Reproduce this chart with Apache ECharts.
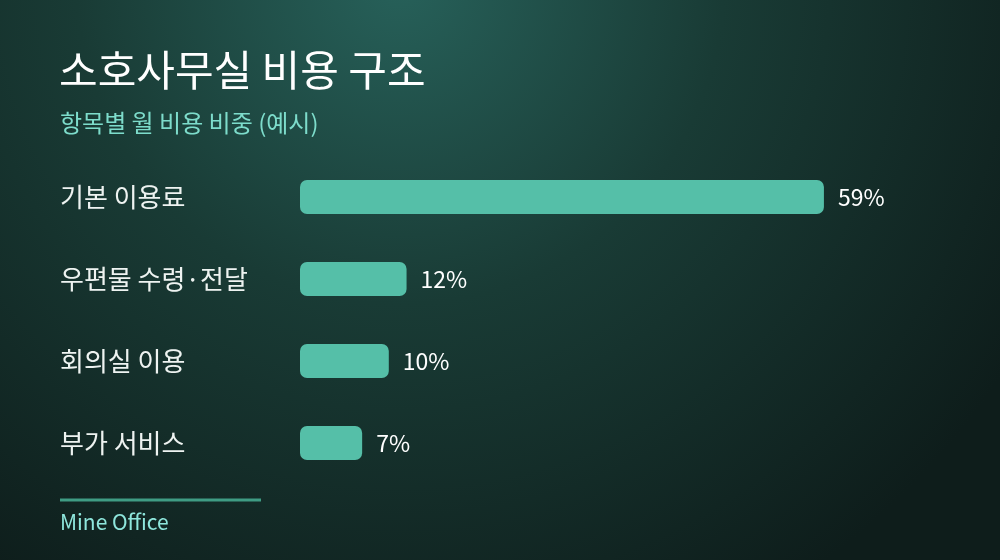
<!DOCTYPE html>
<html><head><meta charset="utf-8">
<script src="https://cdn.jsdelivr.net/npm/echarts@6/dist/echarts.min.js"></script>
<style>html,body{margin:0;padding:0;background:#0f1f1d}#c{width:1000px;height:560px}</style>
</head><body><div id="c"></div>
<script>
const categories = ['기본 이용료', '우편물 수령·전달', '회의실 이용', '부가 서비스'];
const values = [59, 12, 10, 7];
const titleText = '소호사무실 비용 구조';
const subtitleText = '항목별 월 비용 비중 (예시)';
const footerText = 'Mine Office';

const chart = echarts.init(document.getElementById('c'));
const font = '"Noto Sans CJK KR", "Noto Sans", sans-serif';
chart.setOption({
  backgroundColor: {
    type: 'radial', x: 400, y: -20, r: 720, global: true,
    colorStops: [
      {offset: 0, color: '#27615a'},
      {offset: 0.45, color: '#193b35'},
      {offset: 1, color: '#0e1d1b'}
    ]
  },
  title: [
    {text: titleText, left: 59, top: 49, padding: 0, textStyle: {color: '#ffffff', fontSize: 42, fontWeight: 'normal', fontFamily: font}},
    {text: subtitleText, left: 60, top: 111, padding: 0, textStyle: {color: '#7ddccb', fontSize: 24, fontWeight: 'normal', fontFamily: font}}
  ],
  grid: {left: 300, right: 78.4, top: 156, height: 328},
  xAxis: {type: 'value', min: 0, max: 70, show: false},
  yAxis: {
    type: 'category', data: categories, inverse: true,
    axisLine: {show: false}, axisTick: {show: false},
    axisLabel: {align: 'left', margin: 240, color: '#eef3f1', fontSize: 26, fontFamily: font}
  },
  series: [{
    type: 'bar', data: values, barWidth: 34,
    itemStyle: {color: '#55bfa8', borderRadius: 7},
    label: {show: true, position: 'right', distance: 14, formatter: '{c}%', color: '#ffffff', fontSize: 23, fontFamily: font},
    silent: true, animation: false
  }],
  graphic: [
    {type: 'rect', shape: {x: 60, y: 498.5, width: 201, height: 3}, style: {fill: '#3f9c84'}},
    {type: 'text', left: 60, top: 512, style: {text: footerText, fill: '#8ee6dc', fontSize: 21, fontFamily: font}}
  ],
  animation: false
});
</script></body></html>
